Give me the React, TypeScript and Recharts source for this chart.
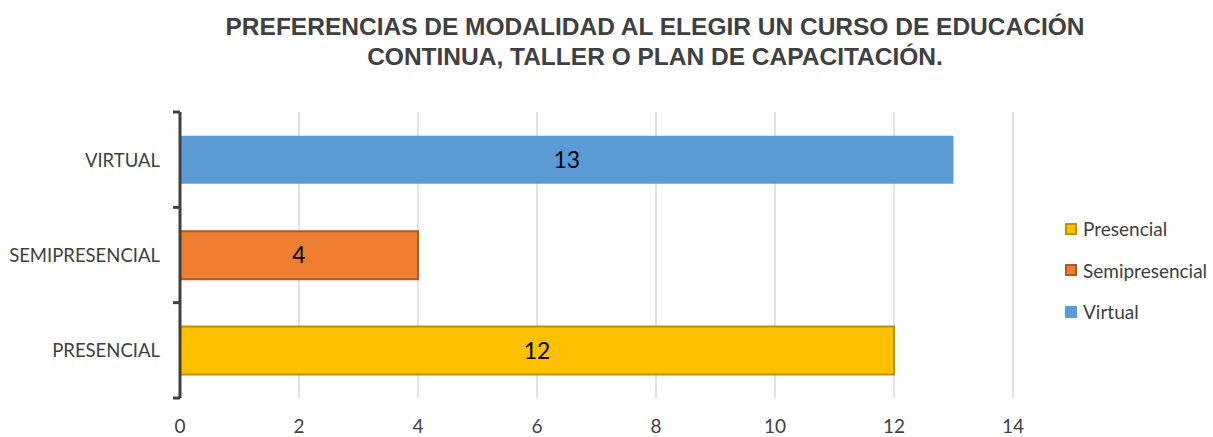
import { Bar, BarChart, CartesianGrid, LabelList, XAxis, YAxis } from "recharts";

const categories = ["VIRTUAL", "SEMIPRESENCIAL", "PRESENCIAL"];
const presencialValues = [null, null, 12];
const semipresencialValues = [null, 4, null];
const virtualValues = [13, null, null];
const xTicks = [0, 2, 4, 6, 8, 10, 12, 14];

const titleLines = [
  "PREFERENCIAS DE MODALIDAD AL ELEGIR UN CURSO DE EDUCACIÓN",
  "CONTINUA, TALLER O PLAN DE CAPACITACIÓN.",
];

const SERIES = [
  { key: "Presencial", fill: "#ffc000", stroke: "#bf9000" },
  { key: "Semipresencial", fill: "#ed7d31", stroke: "#ae5a21" },
  { key: "Virtual", fill: "#5b9bd5", stroke: "none" },
];

const rows = categories.map((name, i) => ({
  name,
  Presencial: presencialValues[i],
  Semipresencial: semipresencialValues[i],
  Virtual: virtualValues[i],
}));

const W = 1213;
const H = 437;
const PLOT_TOP = 112;
const PLOT_BOTTOM = 398;
const PLOT_LEFT = 180;
const PLOT_RIGHT = 1013;
const BAND = (PLOT_BOTTOM - PLOT_TOP) / categories.length;
const FONT = "Lato, 'Open Sans', sans-serif";
const TEXT = "#404040";

function CategoryTick(props: any) {
  const { y, payload, index } = props;
  const half = BAND / 2;
  return (
    <g>
      <text
        x={PLOT_LEFT - 20}
        y={y}
        textAnchor="end"
        dominantBaseline="central"
        fill={TEXT}
        fontSize={18.5}
        fontFamily={FONT}
      >
        {payload.value}
      </text>
      <line x1={PLOT_LEFT - 7} x2={PLOT_LEFT} y1={y - half} y2={y - half} stroke={TEXT} strokeWidth={3} />
      {index === categories.length - 1 && (
        <line x1={PLOT_LEFT - 7} x2={PLOT_LEFT} y1={y + half} y2={y + half} stroke={TEXT} strokeWidth={3} />
      )}
    </g>
  );
}

function LegendBox() {
  return (
    <div
      style={{
        position: "absolute",
        left: 1065,
        top: 208,
        fontFamily: FONT,
        fontSize: 19,
        color: TEXT,
        whiteSpace: "nowrap",
      }}
    >
      {SERIES.map((s) => (
        <div key={s.key} style={{ display: "flex", alignItems: "center", height: 41.5 }}>
          <span
            style={{
              width: 12,
              height: 12,
              boxSizing: "border-box",
              background: s.fill,
              border: s.stroke === "none" ? "none" : `2px solid ${s.stroke}`,
              marginRight: 6,
            }}
          />
          {s.key}
        </div>
      ))}
    </div>
  );
}

export default function App() {
  return (
    <div style={{ position: "absolute", left: 0, top: 0, width: W, height: H, background: "#fff" }}>
      <div
        style={{
          position: "absolute",
          left: 0,
          top: 12,
          width: 1310,
          textAlign: "center",
          fontFamily: "'Liberation Sans', Arial, sans-serif",
          fontWeight: "bold",
          fontSize: 24.5,
          lineHeight: "30px",
          color: TEXT,
        }}
      >
        {titleLines.map((l) => (
          <div key={l}>{l}</div>
        ))}
      </div>
      <BarChart
        width={W}
        height={H}
        data={rows}
        layout="vertical"
        barCategoryGap="25%"
        margin={{ top: PLOT_TOP, right: W - PLOT_RIGHT, bottom: 9, left: 10 }}
      >
        <CartesianGrid horizontal={false} stroke="#d9d9d9" strokeWidth={1.5} />
        <XAxis
          type="number"
          domain={[0, 14]}
          ticks={xTicks}
          axisLine={false}
          tickLine={false}
          height={30}
          tickMargin={16}
          tick={{ fill: TEXT, fontSize: 19, fontFamily: FONT }}
        />
        <YAxis
          type="category"
          dataKey="name"
          width={170}
          axisLine={{ stroke: TEXT, strokeWidth: 3 }}
          tickLine={false}
          tick={<CategoryTick />}
        />
        {SERIES.map((s) => (
          <Bar
            key={s.key}
            dataKey={s.key}
            stackId="a"
            fill={s.fill}
            stroke={s.stroke}
            strokeWidth={2}
            isAnimationActive={false}
          >
            <LabelList
              dataKey={s.key}
              position="center"
              fill="#000"
              fontSize={23}
              fontFamily={FONT}
              formatter={(v: any) => (v == null ? "" : v)}
            />
          </Bar>
        ))}
      </BarChart>
      <LegendBox />
    </div>
  );
}
